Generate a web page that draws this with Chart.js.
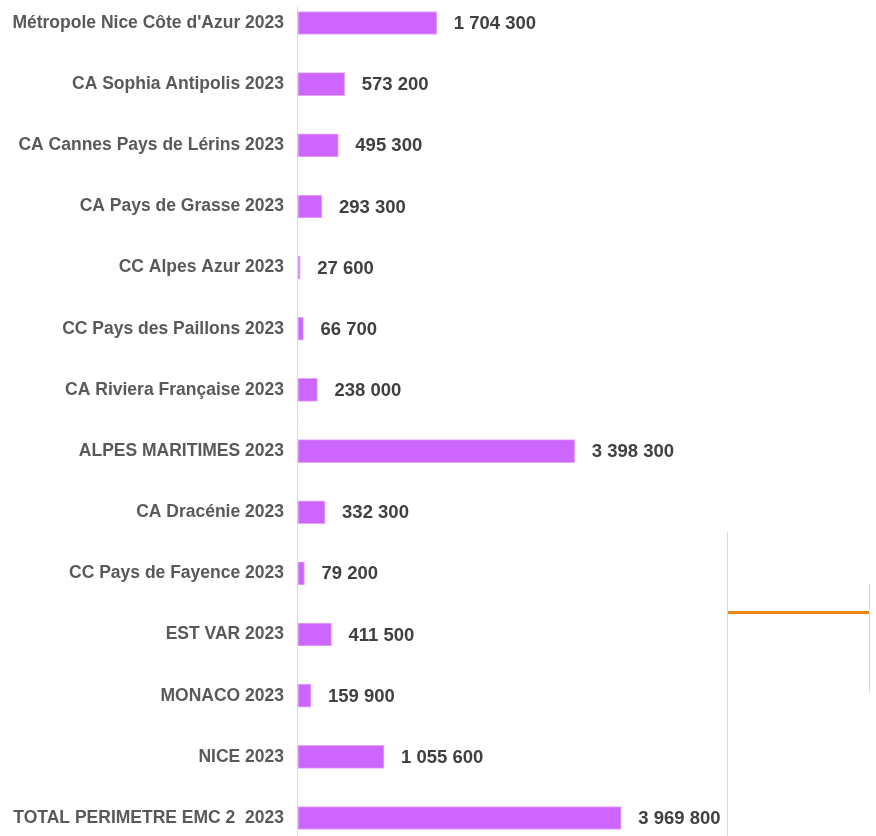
<!DOCTYPE html>
<html>
<head>
<meta charset="utf-8">
<script src="https://cdn.jsdelivr.net/npm/chart.js@4/dist/chart.umd.min.js"></script>
<style>
  html, body { margin: 0; padding: 0; background: #fff; }
  #wrap { position: relative; width: 876px; height: 836px; }
</style>
</head>
<body>
<div id="wrap"><canvas id="c" width="876" height="836"></canvas></div>
<script>
// Population 2023 par territoire
const CATEGORIES = [
  "Métropole Nice Côte d'Azur 2023",
  'CA Sophia Antipolis 2023',
  'CA Cannes Pays de Lérins 2023',
  'CA Pays de Grasse 2023',
  'CC Alpes Azur 2023',
  'CC Pays des Paillons 2023',
  'CA Riviera Française 2023',
  'ALPES MARITIMES 2023',
  'CA Dracénie 2023',
  'CC Pays de Fayence 2023',
  'EST VAR 2023',
  'MONACO 2023',
  'NICE 2023',
  'TOTAL PERIMETRE EMC 2  2023',
];
const VALUES = [
  1704300, 573200, 495300, 293300, 27600, 66700, 238000,
  3398300, 332300, 79200, 411500, 159900, 1055600, 3969800,
];
const X_MAX = 7000000;

const BAR_COLOR = '#CC66FF';
const LABEL_FONT = 'Liberation Sans, Arial, sans-serif';

function fmtSpace(v) {
  return String(v).replace(/\B(?=(\d{3})+(?!\d))/g, ' ');
}

// étiquettes de valeur à droite des barres
const valueLabels = {
  id: 'valueLabels',
  afterDatasetsDraw(chart) {
    const c = chart.ctx;
    const meta = chart.getDatasetMeta(0);
    c.save();
    c.font = 'bold 18.5px ' + LABEL_FONT;
    c.fillStyle = '#404040';
    c.textAlign = 'left';
    c.textBaseline = 'middle';
    meta.data.forEach((bar, i) => {
      c.fillText(fmtSpace(VALUES[i]), bar.x + 17, bar.y + 1);
    });
    c.restore();
  },
};

// axe vertical + traits résiduels (légende coupée) visibles sur l'original
const decorations = {
  id: 'decorations',
  beforeDatasetsDraw(chart) {
    const c = chart.ctx;
    const x0 = Math.round(chart.chartArea.left) - 0.5;
    c.save();
    c.strokeStyle = '#D9D9D9';
    c.lineWidth = 1;
    c.beginPath();
    c.moveTo(x0, 7); c.lineTo(x0, chart.height);
    c.moveTo(727.5, 532); c.lineTo(727.5, chart.height);
    c.moveTo(869.5, 584); c.lineTo(869.5, 692);
    c.stroke();
    c.strokeStyle = '#E8870E';
    c.lineWidth = 3;
    c.beginPath();
    c.moveTo(728, 612.5); c.lineTo(869, 612.5);
    c.stroke();
    c.restore();
  },
};

new Chart(document.getElementById('c'), {
  type: 'bar',
  data: {
    labels: CATEGORIES,
    datasets: [{
      data: VALUES,
      backgroundColor: BAR_COLOR,
      borderColor: '#E3A6FF',
      borderWidth: 1,
      borderSkipped: false,
      barThickness: 23,
      clip: false,
    }],
  },
  plugins: [decorations, valueLabels],
  options: {
    indexAxis: 'y',
    responsive: false,
    animation: false,
    layout: { padding: { top: 23, bottom: 18, left: 0, right: 8 } },
    plugins: { legend: { display: false }, tooltip: { enabled: false } },
    scales: {
      x: {
        min: 0, max: X_MAX,
        display: false,
        grid: { display: false },
      },
      y: {
        offset: false,
        grid: { display: false, drawTicks: false },
        border: { display: false },
        afterFit(scale) {
          scale.width = 298;
          scale.paddingTop = 0;
          scale.paddingBottom = 0;
        },
        ticks: {
          padding: 14,
          color: '#595959',
          font: { family: LABEL_FONT, size: 17.5, weight: 'bold' },
        },
      },
    },
  },
});
</script>
</body>
</html>
